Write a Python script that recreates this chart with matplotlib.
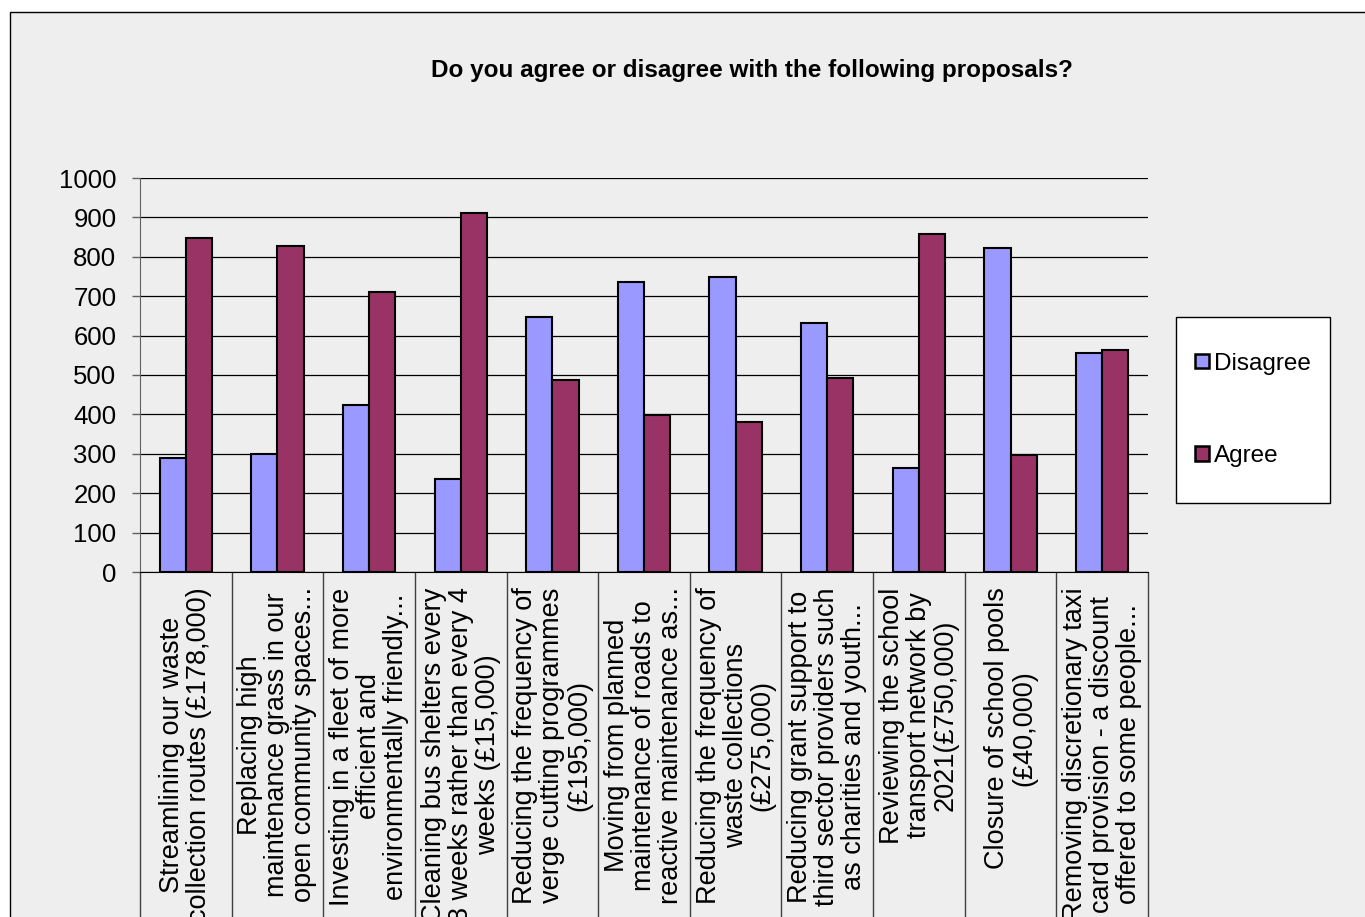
import numpy as np
import matplotlib.pyplot as plt
from matplotlib.patches import Rectangle, Patch

plt.rcParams['font.family'] = ['Liberation Sans', 'DejaVu Sans']

categories = [
    'Streamlining our waste\ncollection routes (£178,000)',
    'Replacing high\nmaintenance grass in our\nopen community spaces...',
    'Investing in a fleet of more\nefficient and\nenvironmentally friendly...',
    'Cleaning bus shelters every\n8 weeks rather than every 4\nweeks (£15,000)',
    'Reducing the frequency of\nverge cutting programmes\n(£195,000)',
    'Moving from planned\nmaintenance of roads to\nreactive maintenance as...',
    'Reducing the frequency of\nwaste collections\n(£275,000)',
    'Reducing grant support to\nthird sector providers such\nas charities and youth...',
    'Reviewing the school\ntransport network by\n2021(£750,000)',
    'Closure of school pools\n(£40,000)',
    'Removing discretionary taxi\ncard provision - a discount\noffered to some people...',
]
disagree = [289, 300, 424, 235, 647, 736, 749, 632, 264, 822, 556]
agree = [847, 828, 710, 910, 487, 398, 381, 492, 858, 297, 563]
yticks = list(range(0, 1001, 100))

bg = '#EEEEEE'
fig = plt.figure(figsize=(13.65, 9.17), dpi=100, facecolor='white')
W, H = 1365, 917

# outer chart frame (runs off the right and bottom edges)
fig.patches.append(Rectangle((10 / W, -0.1), 1.2, 1 - 12 / H + 0.1,
                             transform=fig.transFigure, facecolor=bg,
                             edgecolor='black', linewidth=1.0, zorder=-5))

ax = fig.add_axes([140 / W, 1 - 572 / H, (1148 - 140) / W, (572 - 178) / H])
ax.set_facecolor(bg)

x = np.arange(len(categories))
w = 1 / 3.5
ax.bar(x - w / 2, disagree, w, color='#9999FF', edgecolor='black',
       linewidth=1.5, label='Disagree', zorder=3)
ax.bar(x + w / 2, agree, w, color='#993366', edgecolor='black',
       linewidth=1.5, label='Agree', zorder=3)

ax.set_xlim(-0.5, len(categories) - 0.5)
ax.set_ylim(0, 1000)
ax.set_yticks(yticks)
ax.tick_params(axis='y', labelsize=18.5, length=6, width=1, color='#606060', pad=11)
ax.yaxis.grid(True, color='black', linewidth=0.9, zorder=0)
ax.set_axisbelow(True)

ax.set_xticks(x)
ax.set_xticklabels(categories, rotation=90, fontsize=19.5, va='top', ha='center',
                   multialignment='center', linespacing=1.05)
ax.tick_params(axis='x', which='major', length=0, pad=11)
ax.set_xticks(np.arange(-0.5, len(categories)), minor=True)
ax.tick_params(axis='x', which='minor', length=260, width=1, color='#404040')

for s in ['top', 'right']:
    ax.spines[s].set_visible(False)
ax.spines['left'].set_color('#606060')
ax.spines['bottom'].set_color('black')

fig.text(752 / W, 1 - 71 / H, 'Do you agree or disagree with the following proposals?',
         ha='center', va='center', fontsize=17.5, fontweight='bold')

# legend box
fig.patches.append(Rectangle((1176 / W, 1 - 503 / H), 154 / W, 186 / H,
                             transform=fig.transFigure, facecolor='white',
                             edgecolor='black', linewidth=1.0, zorder=1))
handles = [Patch(facecolor='#9999FF', edgecolor='black', linewidth=1.8),
           Patch(facecolor='#993366', edgecolor='black', linewidth=1.8)]
fig.legend(handles, ['Disagree', 'Agree'], loc='center',
           bbox_to_anchor=(1253 / W, 1 - 410 / H), frameon=False, fontsize=17.5,
           handlelength=0.55, handleheight=0.55, handletextpad=0.2,
           labelspacing=2.9, borderpad=0)

fig.savefig('out.png', dpi=100, facecolor='white')
